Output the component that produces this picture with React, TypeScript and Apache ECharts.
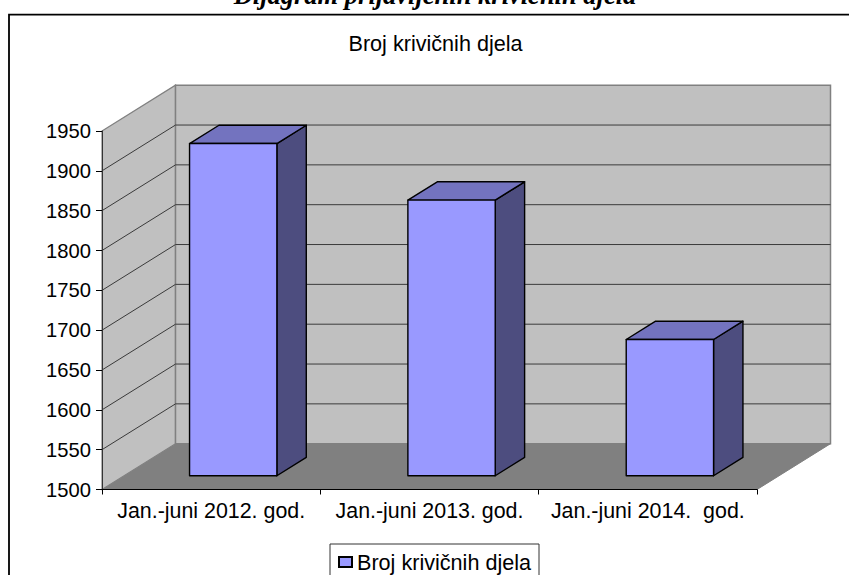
import React, { useEffect, useRef } from "react";
import * as echarts from "echarts";

const categories = ["Jan.-juni 2012. god.", "Jan.-juni 2013. god.", "Jan.-juni 2014.  god."];
const seriesName = "Broj krivičnih djela";
const values = [1917, 1846, 1671];
const gridTicks = [1550, 1600, 1650, 1700, 1750, 1800, 1850, 1900];
const pageTitle = "Dijagram prijavljenih krivičnih djela";

const FONT = '"Liberation Sans", Arial, sans-serif';
const DX = 73.5;
const DY = -45.8;
const Z_START = 0.3;
const Z_SIZE = 0.4;
const BAR_RATIO = 0.4;

export default function App() {
  const ref = useRef<HTMLDivElement>(null);
  useEffect(() => {
    const chart = echarts.init(ref.current!, undefined, { renderer: "svg" });
    chart.setOption({
      animation: false,
      backgroundColor: "#ffffff",
      title: {
        text: seriesName,
        left: 430.5,
        top: 27,
        textAlign: "center",
        textStyle: { fontFamily: FONT, fontSize: 21.6, fontWeight: "normal", color: "#000" },
      },
      legend: {
        show: true,
        data: [seriesName],
        left: 330,
        top: 544,
        padding: [7, 8, 20, 8],
        borderColor: "#333",
        borderWidth: 1,
        itemWidth: 13,
        itemHeight: 10,
        itemGap: 0,
        icon: "rect",
        textStyle: { fontFamily: FONT, fontSize: 21.6, color: "#000" },
      },
      grid: { left: 102, top: 131, width: 655, height: 358.5, containLabel: false },
      xAxis: {
        type: "category",
        data: categories,
        z: 5,
        axisLine: { lineStyle: { color: "#000", width: 1.2 } },
        axisTick: { show: true, interval: 0, length: 5, lineStyle: { color: "#000" } },
        axisLabel: { interval: 0, fontFamily: FONT, fontSize: 21.4, color: "#000", margin: 11 },
      },
      yAxis: {
        type: "value",
        min: 1500,
        max: 1950,
        interval: 50,
        z: 5,
        axisLine: { show: true, lineStyle: { color: "#333", width: 1 } },
        axisTick: { show: true, length: 6, lineStyle: { color: "#000" } },
        axisLabel: {
          fontFamily: FONT,
          fontSize: 20.2,
          color: "#000",
          margin: 11,
          formatter: (v: number) => String(v),
        },
        splitLine: { show: false },
      },
      graphic: [
        {
          type: "polyline",
          shape: { points: [[9, 575], [9, 14.7], [849, 14.7]] },
          style: { stroke: "#000", lineWidth: 1.8, fill: "none" },
          z: 0,
        },
        {
          type: "text",
          x: 435,
          y: -19,
          style: {
            text: pageTitle,
            font: 'italic bold 26.5px "Liberation Serif", "Times New Roman", serif',
            fill: "#000",
            textAlign: "center",
            textVerticalAlign: "top",
          },
        },
      ],
      series: [
        {
          type: "custom",
          name: "walls",
          silent: true,
          z: 1,
          data: [[0, 1500]],
          renderItem: (params: any, api: any) => {
            const c = params.coordSys;
            const x0 = c.x;
            const x1 = c.x + c.width;
            const yT = c.y;
            const yB = c.y + c.height;
            const children: any[] = [
              {
                type: "polygon",
                shape: { points: [[x0, yB], [x0 + DX, yB + DY], [x1 + DX, yB + DY], [x1, yB]] },
                style: { fill: "#808080", stroke: "#808080", lineWidth: 1 },
              },
              {
                type: "polygon",
                shape: { points: [[x0, yT], [x0 + DX, yT + DY], [x0 + DX, yB + DY], [x0, yB]] },
                style: { fill: "#C0C0C0", stroke: "#808080", lineWidth: 1.2 },
              },
              {
                type: "rect",
                shape: { x: x0 + DX, y: yT + DY, width: c.width, height: c.height },
                style: { fill: "#C0C0C0", stroke: "#808080", lineWidth: 1.5 },
              },
            ];
            gridTicks.forEach((v) => {
              const y = api.coord([0, v])[1];
              children.push({
                type: "polyline",
                shape: { points: [[x0, y], [x0 + DX, y + DY], [x1 + DX, y + DY]] },
                style: { fill: "none", stroke: "#3a3a3a", lineWidth: 1 },
              });
            });
            return { type: "group", children };
          },
        },
        {
          type: "custom",
          name: seriesName,
          z: 2,
          itemStyle: { color: "#9999FF", borderColor: "#000", borderWidth: 1.2 },
          encode: { x: 0, y: 1 },
          data: values.map((v, i) => [i, v]),
          renderItem: (params: any, api: any) => {
            const top = api.coord([api.value(0), api.value(1)]);
            const base = api.coord([api.value(0), 1500]);
            const band = api.size([1, 0])[0];
            const w = band * BAR_RATIO;
            const ox = DX * Z_START;
            const oy = DY * Z_START;
            const dx = DX * Z_SIZE;
            const dy = DY * Z_SIZE;
            const l = top[0] + ox - w / 2;
            const r = l + w;
            const t = top[1] + oy;
            const b = base[1] + oy;
            const stroke = { stroke: "#000", lineWidth: 1.4, lineJoin: "round" };
            return {
              type: "group",
              children: [
                {
                  type: "polygon",
                  shape: { points: [[r, t], [r + dx, t + dy], [r + dx, b + dy], [r, b]] },
                  style: { fill: "#4D4D7F", ...stroke },
                },
                {
                  type: "polygon",
                  shape: { points: [[l, t], [l + dx, t + dy], [r + dx, t + dy], [r, t]] },
                  style: { fill: "#7373BF", ...stroke },
                },
                {
                  type: "rect",
                  shape: { x: l, y: t, width: w, height: b - t },
                  style: { fill: "#9999FF", ...stroke },
                },
              ],
            };
          },
        },
      ],
    });
    return () => chart.dispose();
  }, []);
  return (
    <div
      ref={ref}
      style={{ position: "absolute", left: 0, top: 0, width: 849, height: 575, overflow: "hidden" }}
    />
  );
}
